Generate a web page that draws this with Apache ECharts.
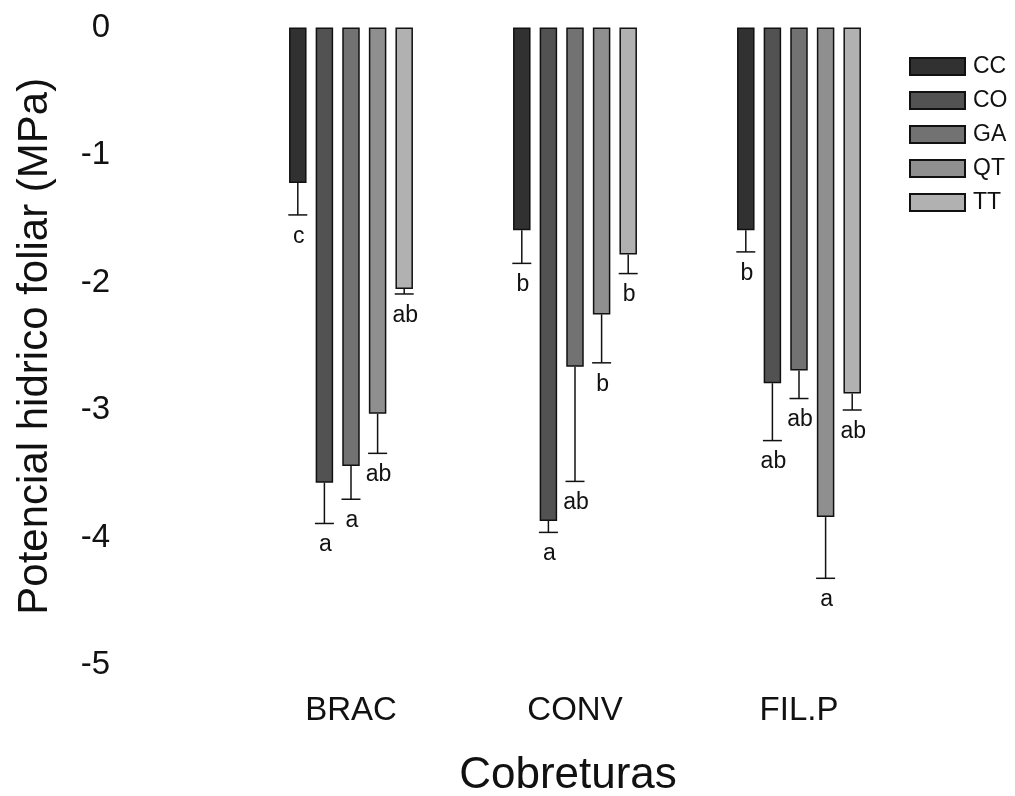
<!DOCTYPE html>
<html>
<head>
<meta charset="utf-8">
<script src="https://cdn.jsdelivr.net/npm/echarts@6/dist/echarts.min.js"></script>
<style>html,body{margin:0;padding:0;background:#fff}#c{width:1015px;height:796px}</style>
</head>
<body>
<div id="c"></div>
<script>
const categories = ['BRAC', 'CONV', 'FIL.P'];
const treatments = ['CC', 'CO', 'GA', 'QT', 'TT'];
const yTicks = [0, -1, -2, -3, -4, -5];

// mean leaf water potential (MPa) per treatment, in category order
const meanCC = [-1.22, -1.59, -1.59];
const meanCO = [-3.57, -3.87, -2.79];
const meanGA = [-3.44, -2.66, -2.69];
const meanQT = [-3.03, -2.25, -3.84];
const meanTT = [-2.05, -1.78, -2.87];

// error bar lengths (drawn downward)
const errCC = [0.25, 0.26, 0.17];
const errCO = [0.32, 0.09, 0.45];
const errGA = [0.26, 0.90, 0.22];
const errQT = [0.31, 0.38, 0.48];
const errTT = [0.04, 0.15, 0.13];

// significance letters
const letCC = ['c', 'b', 'b'];
const letCO = ['a', 'a', 'ab'];
const letGA = ['a', 'ab', 'ab'];
const letQT = ['ab', 'b', 'a'];
const letTT = ['ab', 'b', 'ab'];

const means = [meanCC, meanCO, meanGA, meanQT, meanTT];
const errs = [errCC, errCO, errGA, errQT, errTT];
const letters = [letCC, letCO, letGA, letQT, letTT];
const colors = ['#313131', '#525252', '#727272', '#8f8f8f', '#b1b1b1'];

const BAR_W = 17.5;
const BAR_GAP = 0.52;
const FONT = '"Liberation Sans", Arial, sans-serif';

const series = [];
treatments.forEach((t, i) => {
  series.push({
    name: t,
    type: 'bar',
    data: means[i],
    barWidth: BAR_W,
    barGap: (BAR_GAP * 100) + '%',
    itemStyle: { color: colors[i], borderColor: '#111', borderWidth: 1.5 },
    emphasis: { disabled: true }
  });
});
treatments.forEach((t, i) => {
  const offset = (i - 2) * BAR_W * (1 + BAR_GAP);
  series.push({
    type: 'custom',
    silent: true,
    z: 5,
    data: categories.map((c, k) => [k, means[i][k], errs[i][k]]),
    renderItem: function (params, api) {
      const k = api.value(0);
      const m = api.value(1);
      const e = api.value(2);
      const lab = letters[i][k];
      const p = api.coord([k, m]);
      const q = api.coord([k, m - e]);
      const x = p[0] + offset;
      const half = 9.5;
      return {
        type: 'group',
        children: [
          { type: 'line', shape: { x1: x, y1: p[1], x2: x, y2: q[1] }, style: { stroke: '#111', lineWidth: 1.5 } },
          { type: 'line', shape: { x1: x - half, y1: q[1], x2: x + half, y2: q[1] }, style: { stroke: '#111', lineWidth: 1.5 } },
          { type: 'text', x: x + 1, y: q[1] + 10, style: { text: lab, fontSize: 23, fontFamily: FONT, fill: '#111', align: 'center', verticalAlign: 'top' } }
        ]
      };
    }
  });
});

const chart = echarts.init(document.getElementById('c'), null, { renderer: 'canvas' });
chart.setOption({
  animation: false,
  backgroundColor: '#fff',
  grid: { left: 239, right: 104, top: 27.5, bottom: 131, containLabel: false, outerBoundsMode: 'none' },
  legend: {
    data: treatments,
    orient: 'vertical',
    left: 904,
    top: 50,
    itemWidth: 55,
    itemHeight: 17,
    itemGap: 11,
    icon: 'rect',
    textStyle: { fontSize: 23, fontFamily: FONT, color: '#111', padding: [0, 0, 0, 3] },
    selectedMode: false
  },
  xAxis: {
    type: 'category',
    data: categories,
    axisLine: { show: false },
    axisTick: { show: false },
    axisLabel: { fontSize: 33, fontFamily: FONT, color: '#111', margin: 29 },
    name: 'Cobreturas',
    nameLocation: 'middle',
    nameGap: 89,
    nameTextStyle: { fontSize: 44, fontFamily: FONT, color: '#111', padding: [0, 14, 0, 0] }
  },
  yAxis: {
    type: 'value',
    min: -5,
    max: 0,
    interval: 1,
    axisLine: { show: false },
    axisTick: { show: false },
    splitLine: { show: false },
    axisLabel: { fontSize: 33, fontFamily: FONT, color: '#111', margin: 129,
      formatter: v => yTicks.includes(v) ? String(v) : '' },
    name: 'Potencial hidrico foliar (MPa)',
    nameLocation: 'middle',
    nameGap: 183,
    nameTextStyle: { fontSize: 42, fontFamily: FONT, color: '#111' }
  },
  series: series
});
</script>
</body>
</html>
